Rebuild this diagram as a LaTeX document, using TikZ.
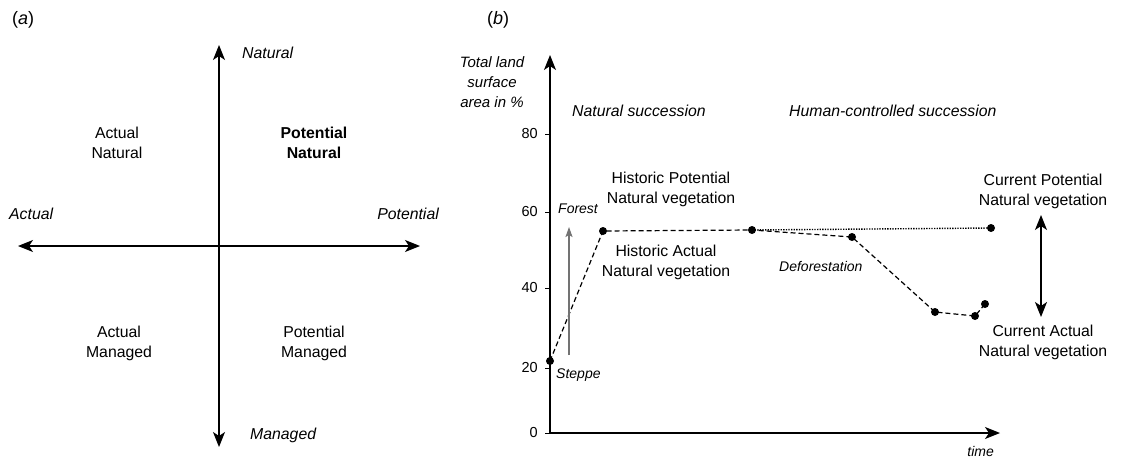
\documentclass[tikz,border=0pt]{standalone}
\usepackage{fontspec}
\setmainfont{Liberation Sans}
\usetikzlibrary{arrows.meta}
\tikzset{
  lbl/.style={font=\fontsize{15.8}{20}\selectfont, align=center, inner sep=0pt},
  boldlbl/.style={font=\fontsize{15.8}{20}\selectfont\bfseries, align=center, inner sep=0pt},
  ital/.style={font=\fontsize{15.8}{20}\selectfont\itshape, align=center, inner sep=0pt},
  smallital/.style={font=\fontsize{14}{17}\selectfont\itshape, inner sep=0pt},
  ticklbl/.style={font=\fontsize{14.5}{17}\selectfont, inner sep=0pt, anchor=east},
  panellbl/.style={font=\fontsize{18}{20}\selectfont, inner sep=0pt, anchor=west},
  axisline/.style={line width=1.3pt},
  bigtip/.tip={Stealth[length=15pt,width=12pt,inset=4pt]},
  smalltip/.tip={Stealth[length=10pt,width=7pt,inset=2pt]},
  dotnode/.style={circle, fill=black, inner sep=0pt, minimum size=8pt},
  dashcurve/.style={line width=1.2pt, dash pattern=on 5pt off 3pt},
  dotcurve/.style={line width=1.4pt, dash pattern=on 1.3pt off 1.3pt},
}
\begin{document}
\begin{tikzpicture}[x=1pt,y=-1pt]
\useasboundingbox (0,0) rectangle (1124,458);
\fill[white] (0,0) rectangle (1124,458);

% ---------------- panel (a) ----------------
\node[panellbl] (pa) at (12,20) {(\textit{a})};
\coordinate (vt) at (219,45);
\coordinate (vb) at (219,447);
\coordinate (hl) at (18,246);
\coordinate (hr) at (420,246);
\draw[axisline, bigtip-bigtip] (vb) -- (vt);
\draw[axisline, bigtip-bigtip] (hl) -- (hr);
\node[ital, anchor=west] (lnat) at (242,53) {Natural};
\node[ital, anchor=west] (lman) at (250,435) {Managed};
\node[ital, anchor=west] (lact) at (9,214) {Actual};
\node[ital, anchor=east] (lpot) at (439,214) {Potential};
\node[lbl] (qan) at (117,143) {Actual\\Natural};
\node[boldlbl] (qpn) at (314,143) {Potential\\Natural};
\node[lbl] (qam) at (119,343) {Actual\\Managed};
\node[lbl] (qpm) at (314,343) {Potential\\Managed};

% ---------------- panel (b) ----------------
\node[panellbl] (pb) at (487,20) {(\textit{b})};
\coordinate (orig) at (550,433);
\coordinate (ytip) at (550,55);
\coordinate (xtip) at (1000,433);
\draw[axisline, -bigtip] (orig) -- (ytip);
\draw[axisline, -bigtip] (orig) -- (xtip);
\node[smallital, anchor=east] (ltime) at (994,451) {time};
\node[ital, font=\fontsize{15}{20}\selectfont\itshape] (ylab) at (492,82) {Total land\\surface\\area in \%};

% ticks
\foreach \v/\yy in {0/433, 20/368, 40/288, 60/212, 80/134}{
  \draw[line width=1pt] (545,\yy) -- (550,\yy);
  \node[ticklbl] (t\v) at (538,\yy) {\v};
}

\node[ital, anchor=west] (nsucc) at (572,111) {Natural succession};
\node[ital, anchor=west] (hsucc) at (789,111) {Human-controlled succession};

% data points
\node[dotnode] (s) at (550,361) {};
\node[dotnode] (a) at (603,231) {};
\node[dotnode] (b) at (752,230) {};
\node[dotnode] (c) at (852,237) {};
\node[dotnode] (d) at (935,312) {};
\node[dotnode] (e) at (975,316) {};
\node[dotnode] (f) at (985,304) {};
\node[dotnode] (p) at (991,228) {};

\draw[dotcurve] (b.center) -- (p.center);
\draw[dashcurve] (s.center) -- (a.center) -- (b.center) -- (c.center) -- (d.center) -- (e.center) -- (f.center);

% forest arrow
\coordinate (fa0) at (569,355);
\coordinate (fa1) at (569,227);
\draw[line width=1.1pt, black!55, -smalltip] (fa0) -- (fa1);
\node[smallital, anchor=west] (lforest) at (558,209) {Forest};
\node[smallital, anchor=west] (lsteppe) at (556,375) {Steppe};
\node[smallital, anchor=west] (ldefor) at (779,266) {Deforestation};

\node[lbl] (hpn) at (671,189) {Historic Potential\\Natural vegetation};
\node[lbl] (han) at (666,262) {Historic Actual\\Natural vegetation};
\node[lbl] (cpn) at (1043,191) {Current Potential\\Natural vegetation};
\node[lbl] (can) at (1043,342) {Current Actual\\Natural vegetation};

\draw[axisline, bigtip-bigtip] (1041,317) -- (1041,215);
\end{tikzpicture}
\end{document}
